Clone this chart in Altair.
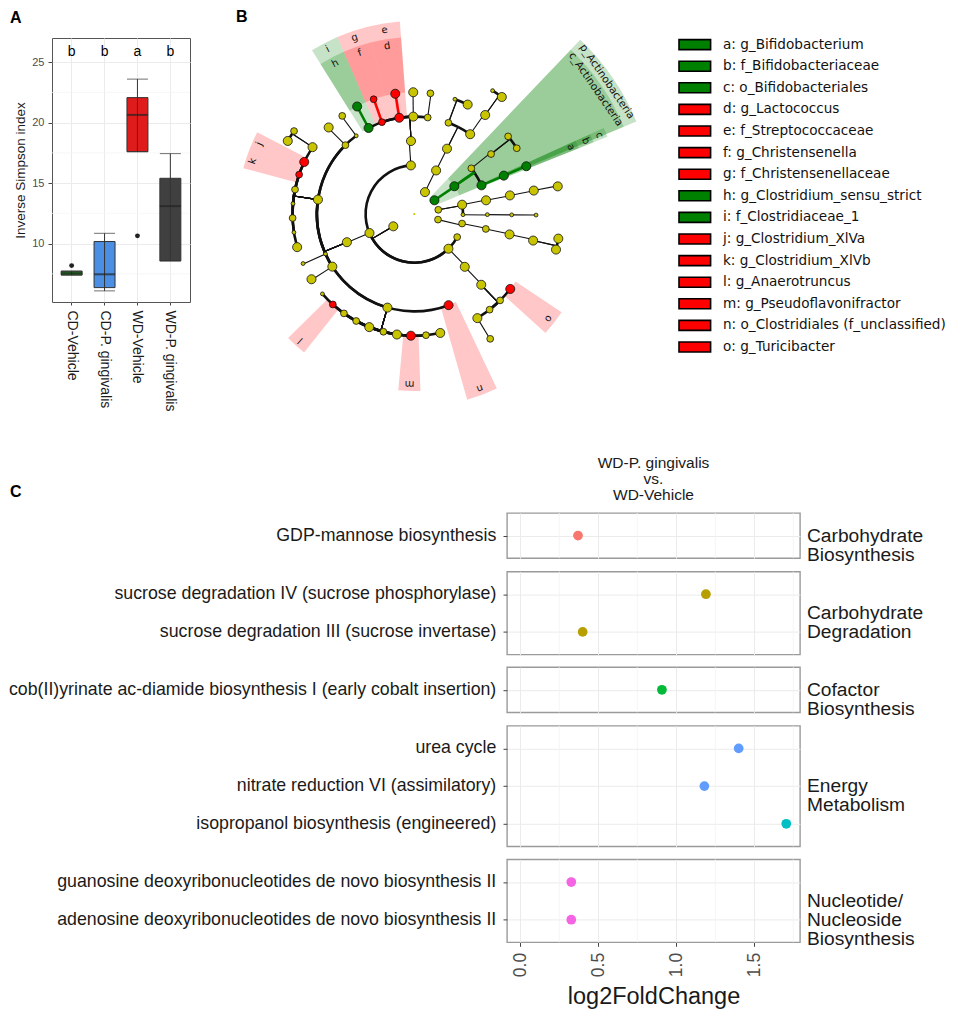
import altair as alt
import pandas as pd

FONT = "Liberation Sans"
LFONT = "DejaVu Sans"
GRN, RED, YEL = "#008000", "#FF0000", "#C8C400"

# ---------------- Panel A : inverse Simpson boxplots ----------------
groups = ["CD-Vehicle", "CD-P. gingivalis", "WD-Vehicle", "WD-P. gingivalis"]
box_fill = ["#1F8A1F", "#4A8FE3", "#E01B1B", "#404040"]
box_q1 = [7.40, 6.36, 17.60, 8.57]
box_med = [7.55, 7.46, 20.64, 13.10]
box_q3 = [7.72, 10.17, 22.07, 15.40]
whisk_lo = [7.40, 6.09, 17.60, 8.57]
whisk_hi = [7.72, 10.85, 23.60, 17.44]
sig_letters = ["b", "b", "a", "b"]
outlier_group = ["CD-Vehicle", "WD-Vehicle"]
outlier_value = [8.18, 10.64]
a_major_ticks = [10, 15, 20, 25]
a_minor_ticks = [7.5, 12.5, 17.5, 22.5]

# ---------------- Panel B : LEfSe cladogram ----------------
# node: ring level (0 = root), angle (deg clockwise from top), parent index, size class, colour class
node_level = [0, 1, 1, 1, 1, 1, 2, 2, 2, 2, 2, 2, 2, 2, 2, 3, 3, 3, 3, 3, 3, 3, 3, 3,
              4, 4, 4, 4, 4, 4, 4, 4, 4, 4, 4, 4, 4, 4, 4, 4, 4, 4, 4, 4,
              5, 5, 5, 5, 5, 5, 5, 5, 5, 5, 5, 5, 5, 5, 5, 5, 5, 5, 5, 5, 5, 5, 5, 5,
              5, 5, 5, 5, 5, 5, 5, 5, 5, 5, 5, 5, 5, 5, 5, 5,
              6, 6, 6, 6, 6, 6, 6, 6]
node_angle = [0, 239.6, 26.0, 55.7, 80.0, 103.3, 118.3, 135.5, 247.0, 356.0, 26.6, 55.3, 79.0, 90.8, 101.3,
              136.3, 247.3, 357.4, 26.6, 51.3, 66.9, 79.2, 90.5, 101.8,
              136.6, 159.4, 196.0, 237.3, 245.8, 278.5, 315.0, 323.4, 332.0, 340.6, 351.1, 359.4, 7.9,
              20.5, 35.0, 52.0, 66.8, 79.0, 90.5, 102.1,
              128.0, 135.2, 141.8, 148.8, 167.7, 174.5, 181.6, 188.2, 194.7, 201.7, 208.5, 215.3, 222.0,
              229.0, 237.6, 246.0, 254.2, 261.3, 268.1, 274.9, 281.6, 288.9, 295.3, 303.3, 315.3, 323.7,
              332.0, 340.5, 351.0, 359.5, 7.6, 19.5, 26.0, 35.6, 50.4, 57.3, 66.9, 78.9, 90.5, 102.6,
              148.7, 300.0, 304.6, 32.4, 36.8, 79.1, 99.7, 104.1]
node_parent = [-1, 0, 0, 0, 0, 0, 1, 1, 1, 1, 2, 3, 4, 4, 5,
               7, 8, 9, 10, 11, 11, 12, 13, 14,
               15, 16, 16, 16, 16, 16, 16, 16, 17, 17, 17, 17, 17,
               18, 18, 19, 20, 21, 22, 23,
               24, 24, 24, 24, 26, 26, 26, 26, 26, 26, 26, 26, 26,
               26, 27, 28, 29, 29, 29, 29, 29, 29, 29, 29, 30, 31,
               32, 33, 34, 35, 36, 37, 37, 38, 39, 39, 40, 41, 42, 43,
               47, 67, 67, 77, 77, 81, 83, 83]
node_size = ["T", "L", "L", "L", "M", "M", "M", "L", "L", "L", "L", "L", "L", "S", "M",
             "L", "L", "L", "L", "M", "L", "L", "S", "M",
             "L", "L", "L", "L", "S", "L", "M", "S", "L", "M", "L", "L", "M",
             "M", "L", "M", "L", "L", "S", "L",
             "L", "M", "M", "L", "L", "M", "L", "L", "M", "L", "M", "M", "M",
             "S", "L", "S", "L", "S", "M", "S", "M", "M", "L", "L", "L", "M",
             "L", "M", "L", "L", "M", "S", "L", "L", "M", "M", "L", "L", "S", "L",
             "M", "L", "M", "S", "L", "L", "L", "L"]
node_color = ["y", "y", "y", "g", "y", "y", "y", "y", "y", "y", "y", "g", "y", "y", "y",
              "y", "y", "y", "y", "y", "g", "y", "y", "y",
              "y", "r", "y", "y", "y", "y", "y", "y", "g", "r", "r", "y", "y",
              "y", "y", "y", "g", "y", "y", "y",
              "r", "y", "y", "y", "y", "y", "r", "y", "y", "y", "y", "y", "r",
              "y", "y", "y", "y", "y", "y", "y", "y", "r", "r", "y", "y", "y",
              "g", "r", "r", "y", "y", "y", "y", "y", "y", "y", "g", "y", "y", "y",
              "y", "y", "y", "y", "y", "y", "y", "y"]

# highlighted clades (shaded sectors)
wedge_name = ["p_Actinobacteria", "c_Actinobacteria", "c", "b", "a", "i", "h", "g", "f",
              "e", "d", "k", "j", "l", "m", "n", "o"]
wedge_side = ["g", "g", "g", "g", "g", "g", "g", "r", "r", "r", "r", "r", "r", "r", "r", "r", "r"]
wedge_from = [43.6, 43.6, 65.6, 65.6, 65.6, 328.0, 328.0, 336.5, 336.5, 346.0, 346.0,
              285.0, 291.2, 218.5, 178.0, 154.7, 123.7]
wedge_to = [67.4, 67.4, 68.2, 68.2, 68.2, 336.5, 336.5, 346.0, 346.0, 355.7, 355.7,
            291.2, 297.5, 225.5, 185.2, 164.1, 132.2]
wedge_inner = [1, 2, 3, 4, 5, 4, 5, 4, 5, 4, 5, 5, 5, 5, 5, 4, 5]
wedge_outer = [9.88, 9.32, 8.54, 7.93, 7.27, 7.93, 7.27, 7.93, 7.27, 7.93, 7.27,
               7.27, 7.27, 7.27, 7.27, 7.93, 7.27]

legend_entries = ["a: g_Bifidobacterium", "b: f_Bifidobacteriaceae", "c: o_Bifidobacteriales",
                  "d: g_Lactococcus", "e: f_Streptococcaceae", "f: g_Christensenella",
                  "g: f_Christensenellaceae", "h: g_Clostridium_sensu_strict", "i: f_Clostridiaceae_1",
                  "j: g_Clostridium_XlVa", "k: g_Clostridium_XlVb", "l: g_Anaerotruncus",
                  "m: g_Pseudoflavonifractor", "n: o_Clostridiales (f_unclassified)", "o: g_Turicibacter"]
legend_side = ["g", "g", "g", "r", "r", "r", "r", "g", "g", "r", "r", "r", "r", "r", "r"]

# ---------------- Panel C : pathway log2 fold changes ----------------
c_facets = ["Carbohydrate\nBiosynthesis", "Carbohydrate\nDegradation", "Cofactor\nBiosynthesis",
            "Energy\nMetabolism", "Nucleotide/\nNucleoside\nBiosynthesis"]
c_pathways = [["GDP-mannose biosynthesis"],
              ["sucrose degradation IV (sucrose phosphorylase)", "sucrose degradation III (sucrose invertase)"],
              ["cob(II)yrinate ac-diamide biosynthesis I (early cobalt insertion)"],
              ["urea cycle", "nitrate reduction VI (assimilatory)", "isopropanol biosynthesis (engineered)"],
              ["guanosine deoxyribonucleotides de novo biosynthesis II",
               "adenosine deoxyribonucleotides de novo biosynthesis II"]]
c_lfc = [[0.37], [1.19, 0.40], [0.908], [1.40, 1.18, 1.705], [0.327, 0.327]]
c_colors = [["#F8766D"], ["#B79F00", "#B79F00"], ["#00BA38"], ["#619CFF", "#619CFF", "#00BFC4"],
            ["#F564E3", "#F564E3"]]
c_major = [0.0, 0.5, 1.0, 1.5]
c_minor = [0.25, 0.75, 1.25, 1.75]
c_header = ["WD-P. gingivalis", "vs.", "WD-Vehicle"]

SIDE = {"g": GRN, "r": RED, "y": YEL}
AREA = {"L": 82, "M": 46, "S": 15, "T": 5}

# ======================= Panel A chart =======================
dfA = pd.DataFrame({"group": groups, "q1": box_q1, "med": box_med, "q3": box_q3,
                    "lo": whisk_lo, "hi": whisk_hi, "fill": box_fill, "letter": sig_letters})
dfO = pd.DataFrame({"group": outlier_group, "value": outlier_value})
dfAm = pd.DataFrame({"v": a_minor_ticks})

xA = alt.X("group:N", sort=groups, scale=alt.Scale(paddingInner=0.362, paddingOuter=0.278),
           axis=alt.Axis(title=None, labelAngle=90, labelFontSize=14, labelColor="#1a1a1a",
                         labelPadding=5, tickColor="#444444", tickSize=3, domain=False, grid=True,
                         gridColor="#ebebeb", bandPosition=0.5, labelLimit=200))
yA_scale = alt.Scale(domain=[5.17, 27.0], nice=False, zero=False)
yA_axis = alt.Axis(values=a_major_ticks, title="Inverse Simpson index", titleFontSize=13.5,
                   titleFontWeight="normal", titleColor="#1a1a1a", labelFontSize=11,
                   labelColor="#4d4d4d", tickColor="#444444", tickSize=4, labelPadding=4,
                   domain=False, grid=True, gridColor="#ebebeb", titlePadding=4)


def yA(field):
    return alt.Y(field, scale=yA_scale, axis=yA_axis)


a_minor = alt.Chart(dfAm).mark_rule(color="#f3f3f3", strokeWidth=0.7).encode(y=yA("v:Q"))
a_box = alt.Chart(dfA).mark_bar(stroke="#333333", strokeWidth=1).encode(
    x=xA, y=yA("q1:Q"), y2="q3:Q", color=alt.Color("fill:N", scale=None))
a_whisk = alt.Chart(dfA).mark_rule(color="#333333", strokeWidth=1).encode(x=xA, y=yA("lo:Q"), y2="hi:Q")
a_cap_hi = alt.Chart(dfA).mark_tick(color="#333333", thickness=1, size=21).encode(x=xA, y=yA("hi:Q"))
a_cap_lo = alt.Chart(dfA).mark_tick(color="#333333", thickness=1, size=21).encode(x=xA, y=yA("lo:Q"))
a_med = alt.Chart(dfA).mark_tick(color="#222222", thickness=2, size=21).encode(x=xA, y=yA("med:Q"))
a_out = alt.Chart(dfO).mark_circle(size=24, color="#222222", opacity=1).encode(x=xA, y=yA("value:Q"))
a_let = alt.Chart(dfA).mark_text(font=FONT, fontSize=14, color="black", baseline="middle").encode(
    x=xA, y=alt.value(14), text="letter:N")
a_tag = alt.Chart(pd.DataFrame({"t": ["A"]})).mark_text(
    font=FONT, fontSize=16, fontWeight="bold", color="black", align="left", baseline="middle").encode(
    x=alt.value(-42), y=alt.value(-20.5), text="t:N")

chartA = alt.layer(a_minor, a_box, a_whisk, a_cap_hi, a_cap_lo, a_med, a_out, a_let, a_tag).properties(
    width=138, height=264, view=alt.ViewBackground(stroke="#555555", strokeWidth=1))

# ======================= Panel B chart =======================
U = 24.35            # pixels per ring level
B_W, B_H = 414, 361
B_CX, B_CY = 187.3, 176.0
xB = alt.Scale(domain=[-B_CX / U, (B_W - B_CX) / U], nice=False, zero=False)
yB = alt.Scale(domain=[-(B_H - B_CY) / U, B_CY / U], nice=False, zero=False)
thS = alt.Scale(domain=[0, 360], range=[0, 6.283185307179586])
rS = alt.Scale(type="linear", domain=[0, 10], range=[0, 10 * U], zero=True, nice=False)
X0 = alt.XDatum(0, type="quantitative", scale=xB, axis=None)
Y0 = alt.YDatum(0, type="quantitative", scale=yB, axis=None)

dfN = pd.DataFrame({"level": node_level, "angle": node_angle,
                    "fill": [SIDE[c] for c in node_color],
                    "area": [AREA[s] for s in node_size],
                    "sw": [0 if s == "T" else 0.8 for s in node_size]})
arc_rows, rad_rows = [], []
for i in range(len(node_level)):
    p = node_parent[i]
    if p <= 0:
        continue
    a0, a1 = node_angle[p], node_angle[i]
    if a1 - a0 > 180:
        a1 -= 360
    elif a0 - a1 > 180:
        a1 += 360
    arc_rows.append({"r": node_level[i], "a0": min(a0, a1), "a1": max(a0, a1)})
    pc = node_color[p]
    rad_rows.append({"ang": a0, "r0": node_level[p], "r1": node_level[i],
                     "col": "#111111" if pc == "y" else SIDE[pc]})
dfArc = pd.DataFrame(arc_rows)
dfRad = pd.DataFrame(rad_rows)
dfW = pd.DataFrame({"name": wedge_name, "col": [SIDE[s] for s in wedge_side], "a0": wedge_from,
                    "a1": wedge_to, "rin": wedge_inner, "rout": wedge_outer})
dfW["amid"] = (dfW["a0"] + dfW["a1"]) / 2
dfW["rlab"] = dfW["rout"] - 0.28

b_wedge = alt.Chart(dfW).mark_arc(opacity=0.22).encode(
    x=X0, y=Y0, theta=alt.Theta("a0:Q", scale=thS), theta2="a1:Q",
    radius=alt.Radius("rout:Q", scale=rS), radius2="rin:Q", color=alt.Color("col:N", scale=None))
b_arc = alt.Chart(dfArc).mark_arc(filled=False, stroke="#111111", strokeWidth=2.6).encode(
    x=X0, y=Y0, theta=alt.Theta("a0:Q", scale=thS), theta2="a1:Q",
    radius=alt.Radius("r:Q", scale=rS), radius2="r:Q")
b_rad = alt.Chart(dfRad).transform_calculate(
    x0="datum.r0*sin(datum.ang*PI/180)", y0="datum.r0*cos(datum.ang*PI/180)",
    x1="datum.r1*sin(datum.ang*PI/180)", y1="datum.r1*cos(datum.ang*PI/180)"
).mark_rule().encode(
    x=alt.X("x0:Q", scale=xB, axis=None), y=alt.Y("y0:Q", scale=yB, axis=None),
    x2="x1:Q", y2="y1:Q", color=alt.Color("col:N", scale=None),
    strokeWidth=alt.condition("datum.col != '#111111'", alt.value(2.6), alt.value(1.1)))
b_node = alt.Chart(dfN).transform_calculate(
    nx="datum.level*sin(datum.angle*PI/180)", ny="datum.level*cos(datum.angle*PI/180)"
).mark_circle(opacity=1, stroke="#111111").encode(
    x=alt.X("nx:Q", scale=xB, axis=None), y=alt.Y("ny:Q", scale=yB, axis=None),
    color=alt.Color("fill:N", scale=None), size=alt.Size("area:Q", scale=None),
    strokeWidth=alt.StrokeWidth("sw:Q", scale=None))
lab_calc = dict(lx="datum.rlab*sin(datum.amid*PI/180)", ly="datum.rlab*cos(datum.amid*PI/180)")
b_letters = alt.Chart(dfW).transform_filter("length(datum.name) == 1").transform_calculate(**lab_calc).mark_text(
    font=LFONT, fontSize=10, color="#111111", baseline="middle").encode(
    x=alt.X("lx:Q", scale=xB, axis=None), y=alt.Y("ly:Q", scale=yB, axis=None),
    text="name:N", angle=alt.Angle("amid:Q", scale=None))
b_names = alt.Chart(dfW).transform_filter("length(datum.name) > 1").transform_calculate(**lab_calc).mark_text(
    font=LFONT, fontSize=10.5, color="#111111", baseline="middle").encode(
    x=alt.X("lx:Q", scale=xB, axis=None), y=alt.Y("ly:Q", scale=yB, axis=None),
    text="name:N", angle=alt.Angle("amid:Q", scale=None))
b_tag = alt.Chart(pd.DataFrame({"t": ["B"]})).mark_text(
    font=FONT, fontSize=16, fontWeight="bold", color="black", align="left", baseline="middle").encode(
    x=alt.value(9), y=alt.value(-21.5), text="t:N")

chartB = alt.layer(b_wedge, b_arc, b_rad, b_node, b_letters, b_names, b_tag).properties(
    width=B_W, height=B_H, view=alt.ViewBackground(stroke="transparent"))

# legend of panel B
dfL = pd.DataFrame({"entry": legend_entries, "col": [SIDE[s] for s in legend_side]})
yL = alt.Y("entry:N", sort=legend_entries, axis=None,
           scale=alt.Scale(paddingInner=0.537, paddingOuter=0.074))
l_sw = alt.Chart(dfL).mark_rect(stroke="black", strokeWidth=1.6).encode(
    x=alt.value(0), x2=alt.value(31.6), y=yL, color=alt.Color("col:N", scale=None))
l_tx = alt.Chart(dfL).mark_text(align="left", baseline="middle", font=LFONT, fontSize=13.6,
                                color="#111111").encode(x=alt.value(44), y=yL, text="entry:N")
chartL = alt.layer(l_sw, l_tx).properties(width=262, height=315.6,
                                           view=alt.ViewBackground(stroke="transparent"))

top = alt.hconcat(chartA, chartB, chartL, spacing=35)

# ======================= Panel C chart =======================
WL, WC = 448, 293
LAB_X = 444.3
STEP = 37.7
GAP = 12.6
xC = alt.Scale(domain=[-0.085, 1.793], nice=False, zero=False)
lab_charts, plot_charts = [], []
for i in range(len(c_facets)):
    labs = c_pathways[i]
    n = len(labs)
    H = round(STEP * (n + 0.2), 1)
    last = i == len(c_facets) - 1
    df = pd.DataFrame({"path": labs, "lfc": c_lfc[i], "col": c_colors[i]})
    ysc = alt.Scale(type="point", padding=0.6)
    yax = alt.Axis(labels=False, ticks=True, tickSize=4, tickColor="#444444", domain=False,
                   title=None, grid=True, gridColor="#ebebeb")
    if last:
        xax = alt.Axis(values=c_major, format=".1f", labelAngle=270, labelFontSize=17.5,
                       labelColor="#4d4d4d", labelPadding=6, tickColor="#444444", tickSize=4,
                       domain=False, grid=True, gridColor="#ebebeb", title="log2FoldChange",
                       titleFontSize=23.5, titleFontWeight="normal", titleColor="#1a1a1a",
                       titlePadding=8)
    else:
        xax = alt.Axis(values=c_major, labels=False, ticks=False, domain=False, grid=True,
                       gridColor="#ebebeb", title=None)
    c_min = alt.Chart(pd.DataFrame({"v": c_minor})).mark_rule(color="#f2f2f2", strokeWidth=0.8).encode(
        x=alt.X("v:Q", scale=xC, axis=xax))
    c_pts = alt.Chart(df).mark_circle(size=95, opacity=1).encode(
        x=alt.X("lfc:Q", scale=xC, axis=xax),
        y=alt.Y("path:N", sort=labs, scale=ysc, axis=yax),
        color=alt.Color("col:N", scale=None))
    c_strip = alt.Chart(pd.DataFrame({"f": [c_facets[i]]})).mark_text(
        align="left", baseline="middle", font=FONT, fontSize=19.2, lineHeight=19.3, lineBreak="\n",
        color="#1a1a1a").encode(x=alt.value(WC + 7), y=alt.value(H / 2), text="f:N")
    plot_props = dict(width=WC, height=H, view=alt.ViewBackground(stroke="#9a9a9a", strokeWidth=1.4))
    if i == 0:
        plot_props["title"] = alt.TitleParams(c_header, anchor="middle", fontSize=15.5, lineHeight=16.2,
                                              fontWeight="normal", font=FONT, color="#1a1a1a", offset=9)
    plot_charts.append(alt.layer(c_min, c_pts, c_strip).properties(**plot_props))
    lab_layers = [alt.Chart(df).mark_text(align="right", baseline="middle", font=FONT, fontSize=17.75,
                                          color="#1a1a1a").encode(
        x=alt.value(LAB_X), y=alt.Y("path:N", sort=labs, scale=ysc, axis=None), text="path:N")]
    if i == 0:
        lab_layers.append(alt.Chart(pd.DataFrame({"t": ["C"]})).mark_text(
            font=FONT, fontSize=16, fontWeight="bold", color="black", align="left",
            baseline="middle").encode(x=alt.value(-42), y=alt.value(-20.7), text="t:N"))
    lab_charts.append(alt.layer(*lab_layers).properties(width=WL, height=H,
                                                        view=alt.ViewBackground(stroke="transparent")))

labels_col = alt.vconcat(*lab_charts, spacing=GAP, bounds="flush")
plots_col = alt.vconcat(*plot_charts, spacing=GAP, bounds="flush")
cblock = alt.hconcat(labels_col, plots_col, spacing=0)

chart = alt.vconcat(top, cblock, spacing=43).properties(padding=0).configure_axis(
    labelFont=FONT, titleFont=FONT).configure_title(font=FONT)

chart.save("out.html", embed_options={"renderer": "svg", "actions": False})
